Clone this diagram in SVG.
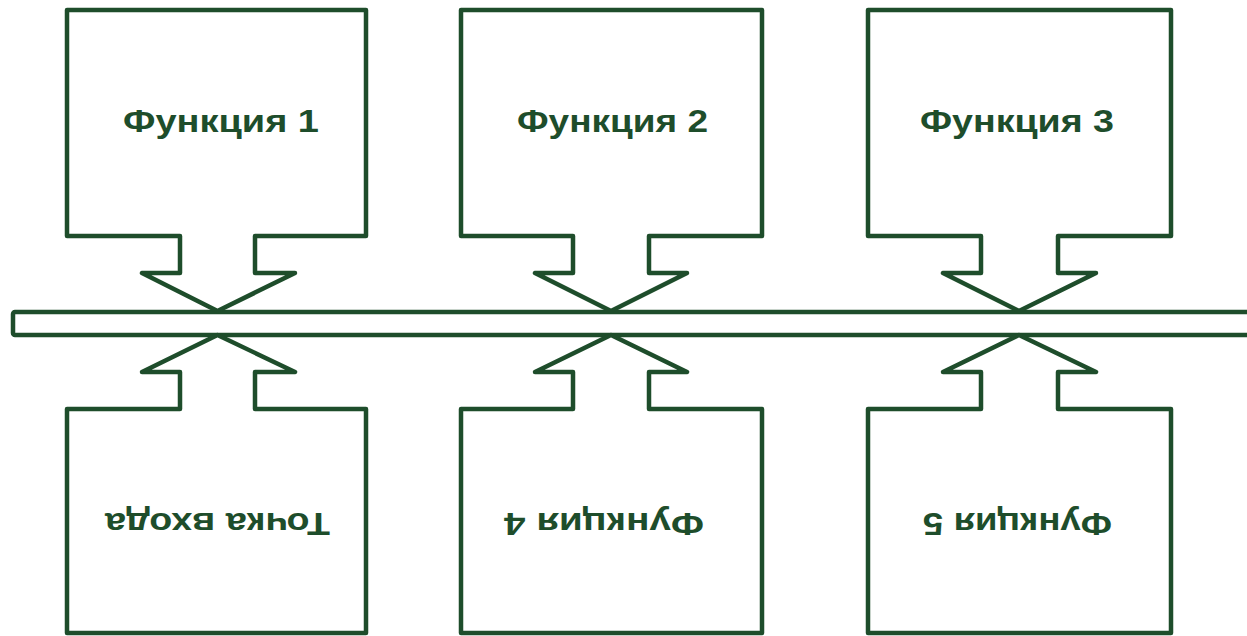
<svg xmlns="http://www.w3.org/2000/svg" width="1247" height="636" viewBox="0 0 1247 636">
  <style>
    .shape { fill: #ffffff; stroke: #1e4d2b; stroke-width: 4.5; stroke-linejoin: round; }
    .lbl { font-family: "Liberation Sans", Arial, sans-serif; font-weight: bold; font-size: 31px; fill: #1e4d2b; text-anchor: middle; }
  </style>
  <rect width="1247" height="636" fill="#ffffff"/>
  <g id="connectors">
    <rect class="shape" x="13" y="312" width="1260" height="23" rx="2"/>
  </g>
  <g id="node-f1">
    <path class="shape" d="M67,10 H366 V236 H255 V273 H295 L217.5,311 L142,273 H180 V236 H67 Z"/>
    <text class="lbl" x="221" y="132" textLength="196" lengthAdjust="spacingAndGlyphs">Функция 1</text>
  </g>
  <g id="node-f2">
    <path class="shape" d="M461,10 H762 V236 H649 V273 H687 L611,311 L535,273 H573 V236 H461 Z"/>
    <text class="lbl" x="612.5" y="132" textLength="191" lengthAdjust="spacingAndGlyphs">Функция 2</text>
  </g>
  <g id="node-f3">
    <path class="shape" d="M868,10 H1171 V236 H1058 V273 H1096 L1019,311 L943,273 H981 V236 H868 Z"/>
    <text class="lbl" x="1017" y="132" textLength="194" lengthAdjust="spacingAndGlyphs">Функция 3</text>
  </g>
  <g id="node-entry">
    <path class="shape" d="M67,633 V409 H180 V372 H142 L217.5,335 L295,372 H255 V409 H366 V633 Z"/>
    <text class="lbl" transform="translate(217.5,513) rotate(180)" x="0" y="0" textLength="225" lengthAdjust="spacingAndGlyphs">Точка входа</text>
  </g>
  <g id="node-f4">
    <path class="shape" d="M461,633 V409 H573 V372 H535 L611,335 L687,372 H649 V409 H762 V633 Z"/>
    <text class="lbl" transform="translate(604,513) rotate(180)" x="0" y="0" textLength="200" lengthAdjust="spacingAndGlyphs">Функция 4</text>
  </g>
  <g id="node-f5">
    <path class="shape" d="M868,633 V409 H981 V372 H943 L1019,335 L1096,372 H1058 V409 H1171 V633 Z"/>
    <text class="lbl" transform="translate(1017.5,513) rotate(180)" x="0" y="0" textLength="189" lengthAdjust="spacingAndGlyphs">Функция 5</text>
  </g>
</svg>
